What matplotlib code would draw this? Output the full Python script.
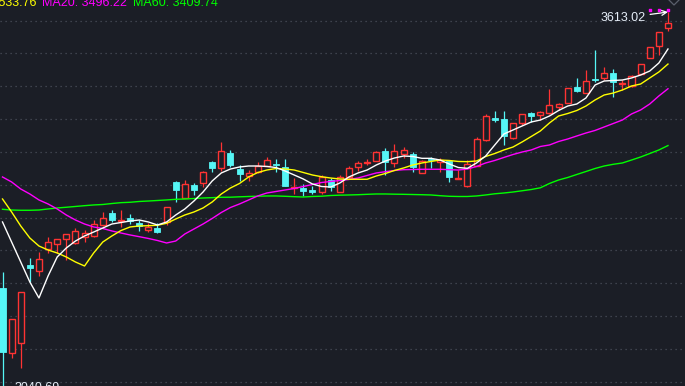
import matplotlib
matplotlib.use("Agg")
import matplotlib.pyplot as plt
from matplotlib.lines import Line2D

# ---------------- data ----------------
opens = [3193.4, 3093.5, 3108.7, 3227.5, 3218.8, 3251.8, 3259.4, 3267.0, 3261.0, 3270.1,
         3271.6, 3288.4, 3306.6, 3295.4, 3299.9, 3291.4, 3281.2, 3284.7, 3293.8, 3354.7,
         3330.4, 3349.7, 3352.3, 3385.2, 3374.8, 3398.4, 3373.6, 3363.4, 3369.0, 3379.1,
         3381.7, 3376.6, 3344.7, 3345.6, 3342.1, 3339.5, 3357.3, 3338.6, 3362.3, 3377.6,
         3383.6, 3386.7, 3401.5, 3383.6, 3396.9, 3396.9, 3368.4, 3389.7, 3384.3, 3386.2,
         3358.4, 3348.6, 3379.1, 3418.2, 3451.2, 3449.7, 3421.7, 3444.5, 3458.8, 3455.8,
         3458.8, 3468.0, 3474.1, 3498.4, 3490.2, 3511.1, 3512.1, 3520.6, 3503.9, 3500.4,
         3518.2, 3542.6, 3561.3, 3588.2]
highs = [3217.7, 3145.7, 3186.4, 3239.0, 3247.2, 3270.1, 3267.5, 3275.1, 3283.8, 3280.7,
         3296.0, 3308.1, 3311.2, 3311.6, 3305.1, 3296.4, 3291.9, 3291.4, 3316.2, 3355.8,
         3357.3, 3352.3, 3371.0, 3385.5, 3414.7, 3403.0, 3380.1, 3372.5, 3385.2, 3391.9,
         3389.3, 3389.3, 3359.9, 3350.8, 3348.2, 3364.9, 3360.8, 3364.9, 3378.6, 3386.2,
         3389.3, 3401.9, 3405.6, 3412.1, 3407.1, 3399.5, 3387.0, 3392.8, 3390.3, 3387.7,
         3372.5, 3387.7, 3422.3, 3457.8, 3462.3, 3462.3, 3444.1, 3457.8, 3461.3, 3462.8,
         3495.4, 3475.0, 3497.4, 3512.1, 3524.7, 3555.2, 3529.8, 3525.8, 3509.5, 3517.1,
         3533.9, 3559.8, 3582.6, 3613.02]
lows = [3040.69, 3085.9, 3070.7, 3201.6, 3211.6, 3245.7, 3245.7, 3235.5, 3260.6, 3262.5,
        3270.5, 3288.0, 3292.9, 3286.2, 3289.6, 3280.4, 3277.7, 3276.6, 3288.8, 3324.3,
        3330.0, 3334.5, 3346.6, 3369.9, 3371.5, 3377.1, 3356.2, 3356.2, 3367.9, 3378.6,
        3369.9, 3348.2, 3336.0, 3333.4, 3335.5, 3335.5, 3341.0, 3338.3, 3359.9, 3371.5,
        3380.1, 3386.2, 3364.9, 3377.6, 3390.3, 3369.9, 3367.9, 3376.0, 3369.9, 3354.7,
        3358.1, 3347.1, 3378.6, 3417.4, 3446.1, 3410.6, 3419.3, 3441.0, 3446.1, 3448.6,
        3458.5, 3463.9, 3473.8, 3491.7, 3489.7, 3506.9, 3509.5, 3484.1, 3494.3, 3499.6,
        3517.9, 3542.3, 3547.6, 3584.6]
closes = [3095.9, 3145.7, 3186.4, 3223.8, 3236.6, 3262.5, 3267.0, 3274.7, 3279.2, 3276.2,
          3289.9, 3299.0, 3296.9, 3296.9, 3294.9, 3287.3, 3286.2, 3278.6, 3315.8, 3342.1,
          3350.8, 3342.1, 3369.0, 3375.1, 3401.9, 3380.1, 3366.4, 3367.5, 3379.1, 3387.7,
          3380.6, 3348.6, 3346.2, 3340.6, 3339.0, 3362.3, 3346.2, 3361.4, 3375.1, 3382.7,
          3384.7, 3399.5, 3385.2, 3401.5, 3403.0, 3377.6, 3386.7, 3388.2, 3387.7, 3362.3,
          3359.6, 3381.2, 3419.3, 3455.2, 3448.6, 3424.7, 3443.6, 3457.3, 3455.2, 3460.4,
          3471.5, 3473.0, 3496.9, 3493.2, 3508.5, 3509.5, 3520.6, 3506.9, 3505.0, 3515.6,
          3533.4, 3559.3, 3582.1, 3595.8]

ma5 = [3293.4, 3262.9, 3232.5, 3202.0, 3177.7, 3211.2, 3240.1, 3253.8, 3264.4, 3272.1,
       3278.1, 3284.2, 3290.3, 3292.6, 3294.9, 3296.4, 3293.4, 3288.8, 3293.4, 3304.0,
       3313.2, 3325.3, 3339.0, 3355.8, 3368.0, 3374.0, 3377.1, 3378.6, 3378.6, 3377.9,
       3376.3, 3371.0, 3364.9, 3358.8, 3351.2, 3347.4, 3346.6, 3352.7, 3361.9, 3368.0,
       3372.5, 3380.1, 3386.2, 3390.8, 3393.8, 3393.1, 3390.3, 3390.3, 3387.7, 3381.7,
       3376.3, 3375.1, 3383.2, 3393.8, 3410.6, 3427.3, 3433.4, 3439.5, 3445.6, 3448.6,
       3454.7, 3463.1, 3469.9, 3473.0, 3482.1, 3501.9, 3508.0, 3508.8, 3509.5, 3512.6,
       3517.1, 3523.2, 3535.4, 3556.7]
ma10 = [3328.4, 3308.6, 3287.3, 3269.0, 3256.8, 3250.7, 3246.2, 3240.1, 3232.5, 3226.4,
        3246.2, 3262.9, 3272.1, 3280.4, 3285.8, 3287.3, 3287.7, 3288.4, 3291.4, 3297.9,
        3304.0, 3308.6, 3314.7, 3323.8, 3336.0, 3345.1, 3352.0, 3361.9, 3368.7, 3372.5,
        3374.8, 3374.0, 3372.5, 3368.7, 3364.9, 3362.3, 3360.3, 3358.8, 3358.4, 3358.4,
        3358.4, 3363.4, 3367.2, 3371.8, 3375.6, 3380.1, 3383.2, 3385.5, 3387.7, 3387.0,
        3385.5, 3385.2, 3386.2, 3393.1, 3397.6, 3403.0, 3407.5, 3415.2, 3423.5, 3431.9,
        3444.1, 3454.7, 3458.5, 3463.1, 3469.9, 3479.1, 3486.7, 3489.7, 3494.3, 3500.4,
        3503.4, 3512.6, 3521.7, 3533.8]
ma20 = [3361.9, 3354.3, 3343.6, 3336.0, 3326.9, 3320.8, 3313.2, 3304.0, 3296.4, 3290.3,
        3285.8, 3283.5, 3279.7, 3276.6, 3273.6, 3271.0, 3268.3, 3265.2, 3261.4, 3264.4,
        3275.1, 3282.7, 3290.3, 3298.7, 3307.8, 3315.4, 3320.8, 3326.9, 3333.0, 3337.5,
        3339.8, 3342.1, 3344.4, 3347.4, 3350.5, 3353.5, 3355.0, 3356.5, 3358.1, 3360.3,
        3364.2, 3368.0, 3369.9, 3371.8, 3373.0, 3373.3, 3373.6, 3373.6, 3373.6, 3373.0,
        3372.5, 3374.0, 3377.9, 3383.2, 3387.0, 3391.6, 3396.1, 3399.9, 3403.0, 3408.3,
        3410.6, 3415.9, 3419.7, 3424.3, 3428.8, 3432.7, 3438.0, 3443.3, 3448.6, 3457.8,
        3463.9, 3473.0, 3485.2, 3496.2]
ma60 = [3312.7, 3311.6, 3311.2, 3311.2, 3311.6, 3313.2, 3314.7, 3315.8, 3317.0, 3318.2,
        3319.3, 3320.0, 3321.5, 3322.8, 3323.4, 3324.6, 3325.3, 3326.1, 3326.9, 3327.9,
        3328.4, 3329.1, 3329.9, 3330.4, 3331.0, 3331.1, 3331.7, 3332.2, 3332.6, 3333.0,
        3333.0, 3332.5, 3331.9, 3331.4, 3332.2, 3332.6, 3333.7, 3334.2, 3334.5, 3334.9,
        3335.5, 3336.0, 3336.0, 3335.7, 3335.5, 3335.2, 3334.9, 3334.5, 3333.4, 3332.5,
        3332.2, 3332.2, 3333.0, 3334.5, 3336.3, 3337.5, 3339.0, 3340.9, 3342.8, 3345.4,
        3352.0, 3357.3, 3361.1, 3365.7, 3370.2, 3374.8, 3378.6, 3381.2, 3383.2, 3387.7,
        3392.3, 3397.6, 3403.0, 3409.7]

grid_levels = [3050, 3100, 3150, 3200, 3250, 3300, 3350, 3400, 3450, 3500, 3550, 3600]
header_ma10 = "MA10: 3533.76"
header_ma20 = "MA20: 3496.22"
header_ma60 = "MA60: 3409.74"
high_label = "3613.02"
low_label = "3040.69"

# ---------------- style ----------------
BG = "#1b1e26"
RED = "#ff3333"
CYAN = "#55f6f6"
W, H, DPI = 685, 386, 100
FONT = ["Liberation Sans", "DejaVu Sans"]

fig = plt.figure(figsize=(W / DPI, H / DPI), dpi=DPI, facecolor=BG)
ax = fig.add_axes([0, 0, 1, 1], facecolor=BG)

n = len(closes)
xs = list(range(n))

# wicks
for i in xs:
    up = closes[i] >= opens[i]
    ax.vlines(i, lows[i], highs[i], color=RED if up else CYAN, lw=0.9, zorder=2)

# bodies
for i in xs:
    up = closes[i] >= opens[i]
    bot = min(opens[i], closes[i])
    h = max(abs(closes[i] - opens[i]), 0.6)
    if up:
        ax.bar(i, h, bottom=bot, width=0.66, facecolor=BG, edgecolor=RED,
               linewidth=1.0, zorder=3)
    else:
        ax.bar(i, h, bottom=bot, width=0.66, facecolor=CYAN, edgecolor=CYAN,
               linewidth=0.6, zorder=3)

# moving averages
ax.plot(xs, ma60, color="#00ff00", lw=1.0, zorder=4)
ax.plot(xs, ma20, color="#ff00ff", lw=1.0, zorder=4)
ax.plot(xs, ma10, color="#ffff00", lw=1.0, zorder=4)
ax.plot(xs, ma5, color="#ffffff", lw=1.0, zorder=5)

# axes limits: candle spacing ~9.12 px, first candle centre at 2.5 px
sp = 9.116
ax.set_xlim(-2.5 / sp, (W - 2.5) / sp)
ax.set_ylim(3043.7, 3631.3)

# dotted grid
ax.set_yticks(grid_levels)
ax.set_xticks([])
ax.grid(axis="y", color="#4a4f5b", linestyle=(0, (1, 3)), linewidth=0.9)
ax.set_axisbelow(True)
for s in ax.spines.values():
    s.set_visible(False)
ax.tick_params(left=False, labelleft=False, bottom=False, labelbottom=False)

# header legend (cut off by the top edge like the reference)
fs = 9.0
yb = 1 - 6.0 / H
ax.text(36 / W, yb, header_ma10, transform=ax.transAxes, ha="right", va="baseline",
        color="#ffff00", fontsize=fs, family=FONT)
ax.text(42 / W, yb, header_ma20, transform=ax.transAxes, ha="left", va="baseline",
        color="#ff00ff", fontsize=fs, family=FONT)
ax.text(133 / W, yb, header_ma60, transform=ax.transAxes, ha="left", va="baseline",
        color="#00ff00", fontsize=fs, family=FONT)

# high / low annotations
imax = highs.index(max(highs))
ax.annotate(high_label, xy=(imax, highs[imax]), xytext=(-22, -6),
            textcoords="offset pixels", ha="right", va="center",
            color="#e6eef8", fontsize=fs, family=FONT, annotation_clip=False,
            arrowprops=dict(arrowstyle="->", color="white", lw=0.9,
                            shrinkA=1, shrinkB=0), zorder=6)
imin = lows.index(min(lows))
ax.annotate(low_label, xy=(imin, lows[imin]), xytext=(12, 0),
            textcoords="offset pixels", ha="left", va="center",
            color="#e6eef8", fontsize=fs, family=FONT, annotation_clip=False,
            zorder=6)

# small magenta signal dots above the last candles
ax.scatter([n - 3, n - 2, n - 1], [1 - 10 / H] * 3, marker="s", s=4, color="#ff00ff",
           transform=ax.get_xaxis_transform(), zorder=6, clip_on=False)

# grey chevron at top-right corner
ax.add_line(Line2D([669 / W, 674 / W, 679 / W], [1.0, 1 - 5 / H, 1.0],
                   transform=ax.transAxes, color="#5a5f6b", lw=0.9))

fig.savefig("out.png", dpi=DPI, facecolor=BG)
